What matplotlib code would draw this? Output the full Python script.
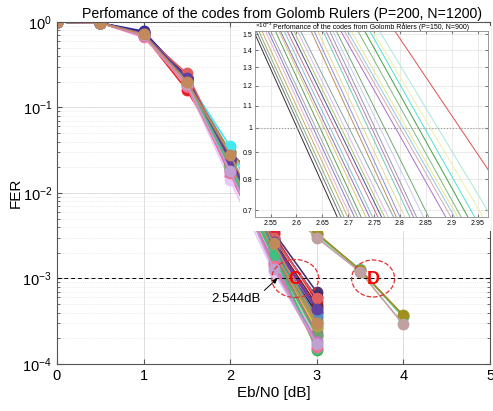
import matplotlib
matplotlib.use("Agg")
import matplotlib.pyplot as plt
from matplotlib.patches import Ellipse
from matplotlib.transforms import ScaledTranslation
from matplotlib.ticker import FixedLocator, NullLocator, LogLocator, NullFormatter

plt.rcParams["font.family"] = ["Liberation Sans", "DejaVu Sans"]
plt.rcParams["mathtext.fontset"] = "custom"
plt.rcParams["mathtext.rm"] = "Liberation Sans"
plt.rcParams["mathtext.default"] = "regular"

# ---- main plot: codes P=200, N=1200 ------------------------------------
ebn0_c = [0, 0.5, 1, 1.5, 2, 2.5, 3]
ebn0_d = [0, 0.5, 1, 1.5, 2, 2.5, 3, 3.5, 4]

fer_0db = 1.0      # every code starts at FER = 1
fer_05db = 0.975   # ... and they all overlap at 0.5 dB

colors_c = ["#2020c0", "#4a3470", "#e8202a", "#f030e0", "#ff90c8", "#40e8f0",
            "#30b040", "#a0a020", "#101010", "#9030b0", "#f08030", "#20a0a0",
            "#e8c8f8", "#a86a30", "#e8d030", "#802020", "#90e8b0", "#202080",
            "#808080", "#b06888", "#70a070", "#e06060", "#5090c0", "#b0a050",
            "#d070d0", "#40c080", "#6040a0", "#f07090", "#c0a0d0", "#c28a5b"]
fer_1db = [0.78, 0.76, 0.70, 0.70, 0.66, 0.72, 0.71, 0.72, 0.74, 0.73,
           0.70, 0.71, 0.68, 0.72, 0.71, 0.73, 0.70, 0.75, 0.72, 0.69,
           0.71, 0.70, 0.73, 0.71, 0.69, 0.72, 0.74, 0.69, 0.70, 0.72]
fer_15db = [0.22, 0.23, 0.16, 0.20, 0.19, 0.21, 0.20, 0.19, 0.21, 0.22,
            0.20, 0.21, 0.18, 0.21, 0.20, 0.22, 0.19, 0.22, 0.20, 0.19,
            0.20, 0.25, 0.21, 0.20, 0.19, 0.20, 0.22, 0.18, 0.19, 0.20]
fer_2db = [0.026, 0.024, 0.022, 0.016, 0.018, 0.035, 0.021, 0.020, 0.023, 0.025,
           0.022, 0.021, 0.014, 0.023, 0.020, 0.024, 0.019, 0.025, 0.021, 0.019,
           0.020, 0.023, 0.022, 0.021, 0.018, 0.020, 0.024, 0.017, 0.018, 0.028]
fer_25db = [2.4e-3, 3.5e-3, 3.3e-3, 1.6e-3, 1.45e-3, 2.3e-3, 2.0e-3, 1.9e-3, 2.2e-3, 2.5e-3,
            2.1e-3, 2.2e-3, 1.2e-3, 2.4e-3, 1.9e-3, 2.8e-3, 1.7e-3, 3.0e-3, 2.0e-3, 1.95e-3,
            1.8e-3, 3.0e-3, 2.3e-3, 2.1e-3, 1.5e-3, 1.9e-3, 2.7e-3, 1.4e-3, 1.3e-3, 2.6e-3]
fer_3db = [4.6e-4, 6.9e-4, 5.4e-4, 2.1e-4, 1.9e-4, 2.6e-4, 1.45e-4, 3.3e-4, 3.9e-4, 4.2e-4,
           2.7e-4, 3.1e-4, 1.65e-4, 3.5e-4, 2.5e-4, 4.9e-4, 2.0e-4, 6.0e-4, 2.9e-4, 2.3e-4,
           2.2e-4, 5.9e-4, 3.6e-4, 2.8e-4, 1.8e-4, 1.5e-4, 4.4e-4, 1.6e-4, 1.7e-4, 3.0e-4]

# codes that need more SNR (group "D")
colors_d = ["#a040c0", "#60d8a0", "#a09020", "#c0a0a0"]
fer_d_1db = [0.73, 0.72, 0.72, 0.71]
fer_d_15db = [0.21, 0.21, 0.20, 0.20]
fer_d_2db = [0.030, 0.029, 0.030, 0.028]
fer_d_25db = [9.5e-3, 9.2e-3, 9.3e-3, 8.8e-3]
fer_d_3db = [3.3e-3, 3.2e-3, 3.4e-3, 3.0e-3]
fer_d_35db = [1.26e-3, 1.28e-3, 1.25e-3, 1.2e-3]
fer_d_4db = [3.6e-4, 3.5e-4, 3.7e-4, 2.9e-4]

target_fer = 1e-3
marked_ebn0 = 2.544

# ---- inset: codes P=150, N=900 (Eb/N0 where each curve crosses two FERs) ----
inset_fer_hi = 1.5e-3
inset_fer_lo = 0.7e-3
inset_eb_hi = [2.520, 2.525, 2.530, 2.536, 2.543, 2.548, 2.553, 2.562, 2.569, 2.572,
               2.579, 2.585, 2.592, 2.598, 2.605, 2.611, 2.631, 2.637, 2.644, 2.654,
               2.660, 2.667, 2.673, 2.680, 2.689, 2.696, 2.702, 2.709, 2.722, 2.735,
               2.745, 2.751, 2.764, 2.794]
inset_eb_lo = [2.673, 2.680, 2.686, 2.693, 2.699, 2.706, 2.712, 2.719, 2.728, 2.735,
               2.741, 2.751, 2.758, 2.764, 2.771, 2.781, 2.787, 2.794, 2.803, 2.813,
               2.820, 2.826, 2.839, 2.849, 2.881, 2.891, 2.898, 2.904, 2.911, 2.924,
               2.937, 2.953, 2.969, 3.023]
inset_colors = ["#303030", "#707070", "#8ab08a", "#c8b060", "#e8b0d0", "#8080c8",
                "#a8a8a8", "#60a060", "#d8c870", "#9070b0", "#80c0d8", "#c87090",
                "#505088", "#a8c870", "#e0b8e8", "#80a8a8", "#b89060", "#9090e0",
                "#e8d890", "#70c8b8", "#b880b8", "#9898a8", "#c8c8f0", "#70a870",
                "#a870c8", "#d8a8a8", "#90c8e8", "#e8e890", "#80b880", "#40a040",
                "#50e0d0", "#f0f0a0", "#a8e8d8", "#e05050"]
inset_yticks = [0.7e-3, 0.8e-3, 0.9e-3, 1.0e-3, 1.1e-3, 1.2e-3, 1.3e-3, 1.4e-3, 1.5e-3]
inset_ylabels = ["0.7", "0.8", "0.9", "1", "1.1", "1.2", "1.3", "1.4", "1.5"]
inset_xticks = [2.55, 2.6, 2.65, 2.7, 2.75, 2.8, 2.85, 2.9, 2.95]

fig = plt.figure(figsize=(4.93, 4.11), dpi=100)
ax = fig.add_axes([0.1156, 0.1144, 0.8784, 0.8321])

for i in range(len(colors_d)):
    ys = [fer_0db, fer_05db, fer_d_1db[i], fer_d_15db[i], fer_d_2db[i],
          fer_d_25db[i], fer_d_3db[i], fer_d_35db[i], fer_d_4db[i]]
    ax.plot(ebn0_d, ys, "o-", color=colors_d[i], ms=7.5, lw=1.2, mec=colors_d[i])

for i in range(len(colors_c)):
    ys = [fer_0db, fer_05db, fer_1db[i], fer_15db[i], fer_2db[i], fer_25db[i], fer_3db[i]]
    ax.plot(ebn0_c, ys, "o-", color=colors_c[i], ms=7.5, lw=1.2, mec=colors_c[i])

ax.set_yscale("log")
ax.set_xlim(0, 5)
ax.set_ylim(1e-4, 1)
ax.axhline(target_fer, color="k", ls="--", lw=0.7, dashes=(4, 3))
ax.yaxis.set_major_locator(LogLocator(base=10, numticks=10))
ax.yaxis.set_minor_locator(LogLocator(base=10, subs=range(2, 10), numticks=10))
ax.yaxis.set_minor_formatter(NullFormatter())
ax.grid(True, which="major", color="#d8d8d8", lw=0.6)
ax.grid(True, which="minor", axis="y", color="#dcdcdc", lw=0.5, ls=":")
ax.tick_params(which="both", direction="in", top=True, right=True, labelsize=10.5,
               color="#555555")
for sp in ax.spines.values():
    sp.set_color("#555555")
    sp.set_linewidth(0.8)
ax.set_title("Perfomance of the codes from Golomb Rulers (P=200, N=1200)",
             fontsize=10.2, pad=3, x=0.52)
ax.set_xlabel("Eb/N0 [dB]", fontsize=11, labelpad=2)
ax.set_ylabel("FER", fontsize=11, labelpad=0)

ax.annotate("2.544dB", xy=(marked_ebn0, target_fer), xytext=(1.78, 5.8e-4),
            fontsize=9.5, ha="left", va="center",
            arrowprops=dict(arrowstyle="-|>", color="k", lw=0.7,
                            mutation_scale=7, shrinkA=1, shrinkB=0,
                            relpos=(1.0, 0.9)))

# dashed red circles around the two groups
for cx, label, w, h in [(2.75, "C", 0.47, 0.38), (3.65, "D", 0.43, 0.37)]:
    off = ScaledTranslation(cx, target_fer, ax.transData)
    ax.add_patch(Ellipse((0, 0), w, h, fill=False, ec="#e03030", ls="--", lw=0.9,
                         transform=fig.dpi_scale_trans + off, zorder=4))
    ax.text(cx, 0.97e-3, label, color="red", fontsize=13, fontweight="bold",
            ha="center", va="center", zorder=5)

# ---- inset -------------------------------------------------------------
bg = fig.add_axes([240 / 493, 1 - 231 / 411, 251 / 493, 205 / 411])
bg.set_xticks([])
bg.set_yticks([])
for sp in bg.spines.values():
    sp.set_visible(False)

ins = fig.add_axes([255 / 493, 1 - 217 / 411, 233 / 493, 186 / 411])
ins.set_yscale("log")
ins.set_xlim(2.52, 2.97)
ins.set_ylim(0.68e-3, 1.52e-3)
for i in range(len(inset_colors)):
    ins.axline((inset_eb_hi[i], inset_fer_hi), (inset_eb_lo[i], inset_fer_lo),
               color=inset_colors[i], lw=0.7)
ins.axhline(target_fer, color="#999999", ls=":", lw=0.8)
ins.yaxis.set_major_locator(FixedLocator(inset_yticks))
ins.yaxis.set_minor_locator(NullLocator())
ins.set_yticklabels(inset_ylabels)
ins.set_xticks(inset_xticks)
ins.set_xticklabels([f"{t:g}" for t in inset_xticks])
ins.grid(True, color="#e2e2e2", lw=0.5)
ins.tick_params(which="both", direction="in", top=True, right=True, labelsize=5,
                length=2, pad=2, color="#777777")
for sp in ins.spines.values():
    sp.set_color("#888888")
    sp.set_linewidth(0.6)
ins.set_title("Perfomance of the codes from Golomb Rulers (P=150, N=900)",
              fontsize=5, pad=1)
ins.text(0.0, 1.005, r"$\times10^{-3}$", transform=ins.transAxes, fontsize=4.5,
         ha="left", va="bottom")

fig.savefig("out.png", dpi=100)
